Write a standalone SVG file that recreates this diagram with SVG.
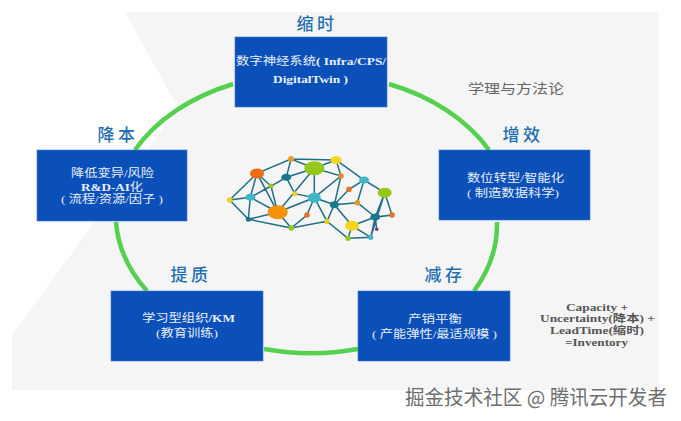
<svg xmlns="http://www.w3.org/2000/svg" width="681" height="421" viewBox="0 0 681 421">
<style>
.b{fill:#0b50b8;stroke:#3b7ad0;stroke-width:.6}
.h{font-size:17px;fill:#1f6fb0;text-anchor:middle;font-family:"Noto Sans CJK SC",sans-serif;font-weight:500;letter-spacing:3.500px}
.t{font-size:11px;fill:#e8effa;font-family:"Liberation Serif","Noto Sans CJK SC",serif}
.l{font-weight:bold}
.n{font-size:10.500px;fill:#555;font-weight:bold;font-family:"Liberation Serif","Noto Sans CJK SC",serif}
.e{stroke:#1f6f85;stroke-width:1.500;fill:none}
.a{stroke:#55d14f;stroke-width:4.500;fill:none}
</style>
<rect width="681" height="421" fill="#fff"/>
<polygon id="bg" points="125,12 659,12 659,390 12,390 12,335 178,108" fill="#f5f5f6"/>
<g id="connectors">
<path class="a" d="M233 84A195 141 0 0 0 135 150"/>
<path class="a" d="M389 84A195 141 0 0 1 489 150"/>
<path class="a" d="M116 222A195 141 0 0 0 147 291"/>
<path class="a" d="M264 349A195 141 0 0 0 358 349"/>
<path class="a" d="M474 291A195 141 0 0 0 497 222"/>
</g>
<g id="brain">
<path class="e" d="M229.700 200L257 173.300L291 159L336 160L314.300 168.300L291 159L286.300 177.300L314.300 168.300L341 176L336 160L364 180L384.700 192.700L392 215L375.300 217L384.700 192.700L370.700 237.300L375.300 217L352 225.700L370.700 237.300L348 238.300L352 225.700L334.300 204.700L327 221.300L348 238.300M229.700 200L250.300 197.300L257 173.300L277.700 212.300L271 186L286.300 177.300L294.700 193.700L314.300 197.700L314.300 168.300L277.700 212.300L314.300 197.700L307 215L291.300 228L327 221.300L314.300 197.700L334.300 204.700L341 176L314.300 197.700M229.700 200L248.300 219.300L250.300 197.300L277.700 212.300L248.300 219.300L291.300 228L277.700 212.300M257 173.300L271 186L250.300 197.300M334.300 204.700L349 189.300L364 180L357.300 202.700L334.300 204.700M357.300 202.700L375.300 217M375.300 217L376.700 229.300"/>
<ellipse cx="257" cy="173.500" rx="7" ry="5" fill="#f26a14"/><circle cx="291" cy="159" r="3" fill="#ea9b2c"/><ellipse cx="336" cy="160" rx="5.500" ry="4" fill="#f5d61a"/><ellipse cx="314.300" cy="168.300" rx="10" ry="7" fill="#94c91a"/><ellipse cx="286.300" cy="177.300" rx="5" ry="3.500" fill="#167a8e"/><circle cx="271" cy="186" r="2.500" fill="#94c91a"/><circle cx="294.700" cy="193.700" r="2.500" fill="#f0d21c"/><circle cx="341" cy="176" r="2.800" fill="#e08a2c"/><ellipse cx="364" cy="180" rx="5" ry="3.500" fill="#3fb5c8"/><circle cx="349" cy="189.300" r="2.800" fill="#e0762c"/><ellipse cx="384.700" cy="192.700" rx="7" ry="5" fill="#94c91a"/><ellipse cx="250.300" cy="197.300" rx="5" ry="3.500" fill="#3fb5c8"/><circle cx="229.700" cy="200" r="2.800" fill="#f0d21c"/><ellipse cx="314.300" cy="197.700" rx="6.500" ry="5" fill="#3fb5c8"/><ellipse cx="334.300" cy="204.700" rx="4.500" ry="3.500" fill="#167a8e"/><circle cx="357.300" cy="202.700" r="2.800" fill="#e09a2c"/><ellipse cx="277.700" cy="212.300" rx="10" ry="7" fill="#f79208"/><circle cx="307" cy="215" r="2.800" fill="#e0762c"/><circle cx="327" cy="221.300" r="2.600" fill="#e8cc20"/><ellipse cx="375.300" cy="217" rx="5" ry="3.500" fill="#167a8e"/><circle cx="392" cy="215" r="2.800" fill="#e0762c"/><circle cx="248.300" cy="219.300" r="2.500" fill="#167a8e"/><ellipse cx="352" cy="225.700" rx="7" ry="5" fill="#f5d61a"/><circle cx="291.300" cy="228" r="2.800" fill="#94c91a"/><circle cx="376.700" cy="229.300" r="1.800" fill="#8a2c80"/><circle cx="348" cy="238.300" r="2.600" fill="#94c91a"/><circle cx="370.700" cy="237.300" r="2.600" fill="#3fb5c8"/>
</g>
<g id="n1"><text class="h" x="317" y="30">缩时</text><rect class="b" x="235" y="37" width="152" height="70"/><text class="t" x="236" y="65" textLength="150" lengthAdjust="spacingAndGlyphs">数字神经系统<tspan class="l">( Infra/CPS/</tspan></text><text class="t l" x="273" y="83" textLength="75" lengthAdjust="spacingAndGlyphs">DigitalTwin )</text></g>
<g id="n2"><text class="h" x="523" y="141">增效</text><rect class="b" x="439" y="150" width="151" height="70"/><text class="t" x="467" y="182" textLength="97" lengthAdjust="spacingAndGlyphs">数位转型/智能化</text><text class="t" x="467" y="197" textLength="92" lengthAdjust="spacingAndGlyphs">( 制造数据科学)</text></g>
<g id="n3"><text class="h" x="445" y="281">减存</text><rect class="b" x="358" y="291" width="152" height="70"/><text class="t" x="408" y="323" textLength="54" lengthAdjust="spacingAndGlyphs">产销平衡</text><text class="t" x="372" y="338" textLength="125" lengthAdjust="spacingAndGlyphs">( 产能弹性/最适规模 )</text></g>
<g id="n4"><text class="h" x="191" y="281">提质</text><rect class="b" x="111" y="291" width="152" height="70"/><text class="t" x="142" y="322" textLength="93" lengthAdjust="spacingAndGlyphs">学习型组织<tspan class="l">/KM</tspan></text><text class="t" x="156" y="337" textLength="62" lengthAdjust="spacingAndGlyphs">(教育训练)</text></g>
<g id="n5"><text class="h" x="118" y="141">降本</text><rect class="b" x="37" y="150" width="150" height="71"/><text class="t" x="71" y="177" textLength="83" lengthAdjust="spacingAndGlyphs">降低变异/风险</text><text class="t" x="81" y="191" textLength="62" lengthAdjust="spacingAndGlyphs"><tspan class="l">R&amp;D-AI</tspan>化</text><text class="t" x="61" y="203" textLength="102" lengthAdjust="spacingAndGlyphs">( 流程/资源/因子 )</text></g>
<text x="468" y="93" textLength="96" lengthAdjust="spacingAndGlyphs" style="font-family:'Noto Sans CJK SC',sans-serif;font-size:13px;fill:#666">学理与方法论</text>
<g id="formula"><text class="n" x="566" y="311" textLength="62" lengthAdjust="spacingAndGlyphs">Capacity +</text><text class="n" x="540" y="322" textLength="115" lengthAdjust="spacingAndGlyphs">Uncertainty(降本) +</text><text class="n" x="550" y="334" textLength="94" lengthAdjust="spacingAndGlyphs">LeadTime(缩时)</text><text class="n" x="565" y="346" textLength="63" lengthAdjust="spacingAndGlyphs">=Inventory</text></g>
<text x="405" y="405" textLength="262" lengthAdjust="spacingAndGlyphs" style="font-family:'Noto Sans CJK SC',sans-serif;font-size:20px;fill:#6e6e6e">掘金技术社区 @ 腾讯云开发者</text>
</svg>
